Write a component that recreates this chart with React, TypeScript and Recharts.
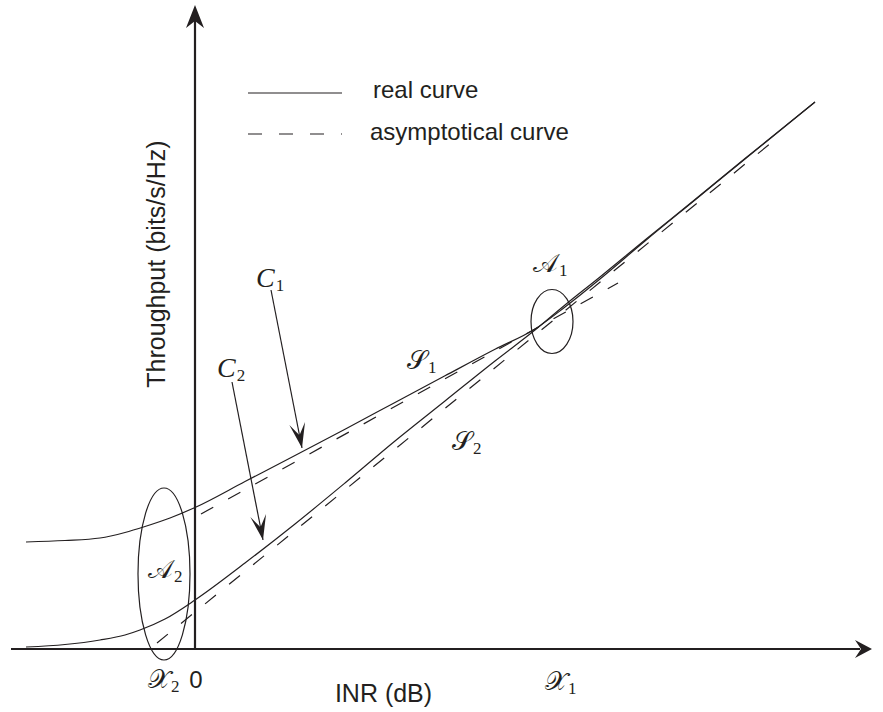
import React from 'react';
import { LineChart, Line, XAxis, YAxis, ReferenceLine, ReferenceDot } from 'recharts';

// ---------- data (INR in dB-like schematic units, throughput in bits/s/Hz-like units) ----------
const c1Inr = [-16.9, -13, -9.5, -7, -5, -2.5, 0, 5, 10, 15, 20, 25, 30, 34, 37, 40.5, 45, 50, 55, 62];
const c1Thr = [10.7, 10.85, 11.1, 11.65, 12.25, 13.1, 14.15, 16.75, 19.35, 21.98, 24.65, 27.32, 29.97, 32.0, 34.2, 37.0, 40.8, 44.9, 49.0, 54.7];
const c2Inr = [-16.9, -13, -9.5, -7, -5.5, -3, 0, 5, 10, 15, 20, 25, 30, 34, 37, 40.5, 45, 50, 55, 62];
const c2Thr = [0.2, 0.45, 0.9, 1.4, 1.9, 3.0, 4.9, 8.6, 12.5, 16.6, 20.8, 24.8, 28.8, 31.9, 34.4, 37.2, 40.9, 44.95, 49.05, 54.7];
const s1Inr = [0.6, 42.3];
const s1Thr = [13.5, 36.6];
const s2Inr = [-3.8, 58.7];
const s2Thr = [0.6, 51.5];

// annotation labels (math symbols) and their anchor in data units
const mathNames = ['C', 'C', '\u{1D4AE}', '\u{1D4AE}', '\u{1D49C}', '\u{1D49C}', '\u{1D4B3}', '\u{1D4B3}'];
const mathSubs = ['1', '2', '1', '2', '1', '2', '1', '2'];
const mathIsScript = [false, false, true, true, true, true, true, true];
const mathInr = [6.1, 2.2, 21.2, 25.7, 33.8, -4.7, 35.0, -4.7];
const mathThr = [36.2, 27.2, 28.0, 19.9, 37.7, 7.1, -4.1, -3.9];

// pointer arrows (tail -> tip) for C1, C2
const arrowTailInr = [7.6, 3.7];
const arrowTailThr = [35.9, 26.7];
const arrowTipInr = [10.7, 6.8];
const arrowTipThr = [20.1, 10.9];

// highlighted regions A1, A2 (centres)
const regionInr = [35.7, -3.1];
const regionThr = [32.75, 7.5];

// texts
const xTitle = 'INR (dB)';
const yTitle = 'Throughput (bits/s/Hz)';
const legendNames = ['real curve', 'asymptotical curve'];
const originTick = '0';

// ---------- layout / style ----------
const W = 883;
const H = 712;
const MARGIN = { top: 5, right: 11, bottom: 63, left: 11 };
const X_DOMAIN: [number, number] = [-18.4, 67.7];
const Y_DOMAIN: [number, number] = [0, 64.4];
const KX = (W - MARGIN.left - MARGIN.right) / (X_DOMAIN[1] - X_DOMAIN[0]);
const KY = (H - MARGIN.top - MARGIN.bottom) / (Y_DOMAIN[1] - Y_DOMAIN[0]);
const INK = '#231f20';
const SANS = '"Liberation Sans", Arial, Helvetica, sans-serif';
const SERIF = '"Liberation Serif", "Times New Roman", serif';
const SCRIPT = '"DejaVu Serif", "DejaVu Sans", "Noto Sans", serif';
const DASH = '14 17';
const REGION_RADII = [
  [21, 32],
  [26, 86],
];

const zip = (xs: number[], ys: number[]) => xs.map((x, i) => ({ inr: x, thr: ys[i] }));
const c1 = zip(c1Inr, c1Thr);
const c2 = zip(c2Inr, c2Thr);
const s1 = zip(s1Inr, s1Thr);
const s2 = zip(s2Inr, s2Thr);

const arrowHead = (len: number, hw: number, notch: number) =>
  `M0 0 L${-len} ${-hw} L${-notch} 0 L${-len} ${hw} Z`;

export default function App() {
  const legendLineInr = [5.3, 14.7];
  const legendRowThr = [55.6, 51.5];
  const legendTextInr = [17.8, 17.5];
  const legendTextThr = [55.1, 50.9];
  return (
    <div style={{ position: 'absolute', left: 0, top: 0, width: W, height: H, background: '#fff' }}>
      <LineChart width={W} height={H} margin={MARGIN}>
        <XAxis dataKey="inr" type="number" domain={X_DOMAIN} hide />
        <YAxis type="number" domain={Y_DOMAIN} hide />

        {/* axes */}
        <ReferenceLine
          segment={[{ x: X_DOMAIN[0], y: 0 }, { x: X_DOMAIN[1] - 1.2, y: 0 }]}
          stroke={INK}
          strokeWidth={2.2}
          ifOverflow="visible"
        />
        <ReferenceLine
          segment={[{ x: 0, y: 0 }, { x: 0, y: Y_DOMAIN[1] - 1.5 }]}
          stroke={INK}
          strokeWidth={2.2}
          ifOverflow="visible"
        />
        <ReferenceDot
          x={X_DOMAIN[1]}
          y={0}
          r={1}
          ifOverflow="visible"
          shape={(p: any) => (
            <path d={arrowHead(17, 9, 11)} transform={`translate(${p.cx},${p.cy})`} fill={INK} stroke="none" />
          )}
        />
        <ReferenceDot
          x={0}
          y={Y_DOMAIN[1]}
          r={1}
          ifOverflow="visible"
          shape={(p: any) => (
            <path d={arrowHead(23, 9, 16)} transform={`translate(${p.cx},${p.cy}) rotate(-90)`} fill={INK} stroke="none" />
          )}
        />

        {/* curves */}
        <Line data={s1} dataKey="thr" type="linear" stroke={INK} strokeWidth={1.2} strokeDasharray={DASH} dot={false} isAnimationActive={false} />
        <Line data={s2} dataKey="thr" type="linear" stroke={INK} strokeWidth={1.2} strokeDasharray={DASH} dot={false} isAnimationActive={false} />
        <Line data={c1} dataKey="thr" type="monotone" stroke={INK} strokeWidth={1.2} dot={false} isAnimationActive={false} />
        <Line data={c2} dataKey="thr" type="monotone" stroke={INK} strokeWidth={1.2} dot={false} isAnimationActive={false} />

        {/* region ellipses */}
        {regionInr.map((u, i) => (
          <ReferenceDot
            key={`reg${i}`}
            x={u}
            y={regionThr[i]}
            r={1}
            ifOverflow="visible"
            shape={(p: any) => (
              <ellipse cx={p.cx} cy={p.cy} rx={REGION_RADII[i][0]} ry={REGION_RADII[i][1]} fill="none" stroke={INK} strokeWidth={1.2} />
            )}
          />
        ))}

        {/* pointer arrows */}
        {arrowTailInr.map((u, i) => (
          <ReferenceLine
            key={`ash${i}`}
            segment={[{ x: u, y: arrowTailThr[i] }, { x: arrowTipInr[i], y: arrowTipThr[i] }]}
            stroke={INK}
            strokeWidth={1.2}
            ifOverflow="visible"
          />
        ))}
        {arrowTipInr.map((u, i) => {
          const ang =
            (Math.atan2(-(arrowTipThr[i] - arrowTailThr[i]) * KY, (u - arrowTailInr[i]) * KX) * 180) / Math.PI;
          return (
            <ReferenceDot
              key={`ahd${i}`}
              x={u}
              y={arrowTipThr[i]}
              r={1}
              ifOverflow="visible"
              shape={(p: any) => (
                <path d={arrowHead(25, 8, 13)} transform={`translate(${p.cx},${p.cy}) rotate(${ang})`} fill={INK} stroke="none" />
              )}
            />
          );
        })}

        {/* math labels */}
        {mathNames.map((m, i) => (
          <ReferenceDot
            key={`ml${i}`}
            x={mathInr[i]}
            y={mathThr[i]}
            r={1}
            ifOverflow="visible"
            shape={(p: any) => (
              <text x={p.cx} y={p.cy} fill={INK}>
                <tspan
                  fontFamily={mathIsScript[i] ? SCRIPT : SERIF}
                  fontStyle={mathIsScript[i] ? 'normal' : 'italic'}
                  fontSize={mathIsScript[i] ? 26 : 28}
                >
                  {m}
                </tspan>
                <tspan fontFamily={SERIF} fontSize={17} dy={4} dx={1}>
                  {mathSubs[i]}
                </tspan>
              </text>
            )}
          />
        ))}

        {/* origin tick label */}
        <ReferenceDot
          x={0.1}
          y={-3.9}
          r={1}
          ifOverflow="visible"
          shape={(p: any) => (
            <text x={p.cx} y={p.cy} fill={INK} fontFamily={SANS} fontSize={24} textAnchor="middle">
              {originTick}
            </text>
          )}
        />
        {/* axis titles */}
        <ReferenceDot
          x={18.85}
          y={-5.3}
          r={1}
          ifOverflow="visible"
          shape={(p: any) => (
            <text x={p.cx} y={p.cy} fill={INK} fontFamily={SANS} fontSize={25} textAnchor="middle">
              {xTitle}
            </text>
          )}
        />
        <ReferenceDot
          x={-3.9}
          y={38.5}
          r={1}
          ifOverflow="visible"
          shape={(p: any) => (
            <text
              x={p.cx}
              y={p.cy}
              fill={INK}
              fontFamily={SANS}
              fontSize={25}
              textAnchor="middle"
              dominantBaseline="central"
              transform={`rotate(-90, ${p.cx}, ${p.cy})`}
            >
              {yTitle}
            </text>
          )}
        />

        {/* legend */}
        {legendNames.map((name, i) => (
          <ReferenceLine
            key={`lgl${i}`}
            segment={[{ x: legendLineInr[0], y: legendRowThr[i] }, { x: legendLineInr[1], y: legendRowThr[i] }]}
            stroke={INK}
            strokeWidth={1.2}
            strokeDasharray={i === 0 ? undefined : DASH}
            ifOverflow="visible"
          />
        ))}
        {legendNames.map((name, i) => (
          <ReferenceDot
            key={`lgt${i}`}
            x={legendTextInr[i]}
            y={legendTextThr[i]}
            r={1}
            ifOverflow="visible"
            shape={(p: any) => (
              <text x={p.cx} y={p.cy} fill={INK} fontFamily={SANS} fontSize={24}>
                {name}
              </text>
            )}
          />
        ))}
      </LineChart>
    </div>
  );
}
